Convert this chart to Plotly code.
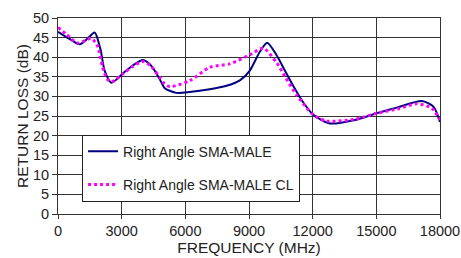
import plotly.graph_objects as go

freq_a = [0, 500, 1020, 1400, 1730, 2000, 2200, 2520, 3070, 3500, 4010, 4400, 4800, 5030, 5590,
          6200, 7150, 7940, 8570, 9040, 9510, 9860, 10300, 10700, 11100, 11550, 12030, 12810, 14000,
          15020, 16000, 17140, 17690, 18000]
rl_a = [46.5, 44.8, 43.3, 44.8, 46.3, 42.0, 36.5, 33.5, 35.9, 37.8, 39.3, 37.8, 34.3, 32.1, 30.9,
        31.1, 31.8, 32.7, 34.1, 36.6, 41.4, 43.7, 40.5, 36.5, 32.5, 28.5, 25.3, 23.1, 24.0,
        25.7, 27.2, 28.8, 27.4, 23.5]

freq_b = [0, 400, 930, 1570, 1850, 2100, 2300, 2520, 3070, 3500, 4010, 4400, 4800, 5030, 5270,
          6210, 7150, 8090, 9040, 9670, 10300, 10700, 11240, 12030, 12660, 14000,
          15020, 16000, 16910, 17610, 18000]
rl_b = [47.6, 45.8, 43.6, 44.8, 43.0, 37.5, 34.5, 33.7, 35.8, 37.6, 38.9, 37.6, 34.8, 33.2, 32.5,
        34.0, 37.4, 38.3, 40.6, 42.3, 38.6, 35.0, 30.4, 25.3, 23.7, 24.2,
        25.7, 26.8, 28.1, 27.0, 24.0]

names = ["Right Angle SMA-MALE", "Right Angle SMA-MALE CL"]
x_ticks = [0, 3000, 6000, 9000, 12000, 15000, 18000]
y_ticks = list(range(0, 55, 5))

FAM = "Liberation Sans, Arial, sans-serif"
tick_font = dict(family=FAM, size=14.5, color="#222")
title_font = dict(family=FAM, size=15.5, color="#222")

fig = go.Figure()
fig.add_trace(go.Scatter(x=freq_a, y=rl_a, mode="lines", name=names[0], legendgroup="a",
                         line=dict(color="#000080", width=2, shape="spline", smoothing=0.7)))
fig.add_trace(go.Scatter(x=freq_b, y=rl_b, mode="lines", name=names[1], legendgroup="b",
                         line=dict(color="#ff00ff", width=3, dash="dot", shape="spline", smoothing=0.7)))

fig.update_layout(
    width=461, height=258,
    margin=dict(l=58, r=21, t=18, b=44),
    plot_bgcolor="white", paper_bgcolor="white",
    font=tick_font,
    showlegend=True,
    legend=dict(x=0.063, y=0.405, xanchor="left", yanchor="top",
                bgcolor="white", bordercolor="#222", borderwidth=1,
                font=dict(family=FAM, size=14, color="#222"),
                tracegroupgap=12, itemwidth=30),
    xaxis=dict(range=[0, 18000], tickvals=x_ticks, ticktext=[str(v) for v in x_ticks],
               showgrid=True, gridcolor="#333", gridwidth=1,
               showline=True, linecolor="#333", linewidth=1, mirror=True,
               ticks="outside", ticklen=4, tickcolor="#333", tickfont=tick_font,
               title=dict(text="FREQUENCY (MHz)", standoff=0, font=title_font),
               zeroline=False, automargin=False),
    yaxis=dict(range=[0, 50], tickvals=y_ticks,
               showgrid=True, gridcolor="#333", gridwidth=1,
               showline=True, linecolor="#333", linewidth=1, mirror=True,
               ticks="outside", ticklen=5, tickcolor="#333", tickfont=tick_font,
               title=dict(text="RETURN LOSS (dB)", standoff=0, font=title_font),
               zeroline=False, automargin=False),
)

fig.write_html("out.html", config={"displayModeBar": False},
               post_script="document.body.style.margin='0';document.body.style.overflow='hidden';")
